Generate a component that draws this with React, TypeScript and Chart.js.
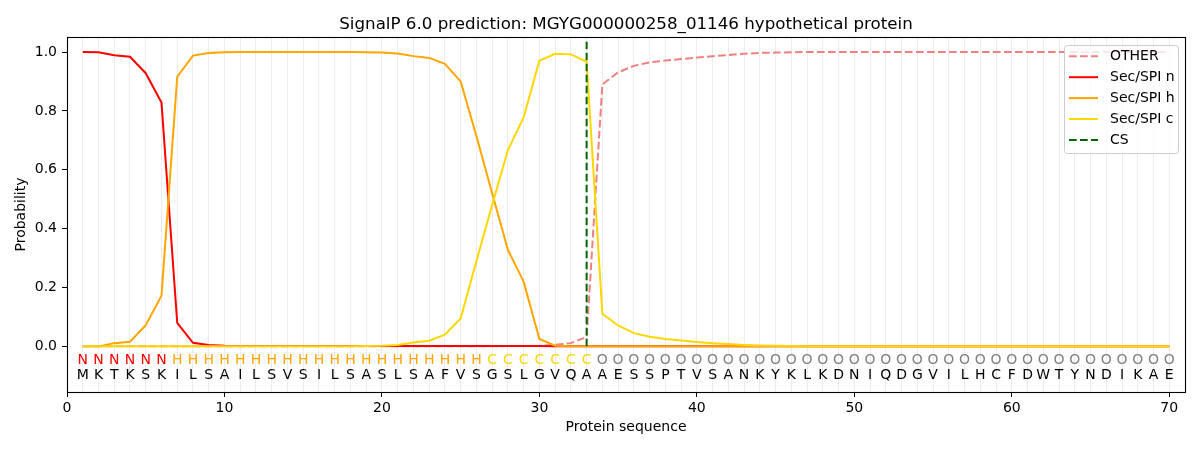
import React, { useEffect, useRef } from 'react';
import Chart from 'chart.js/auto';

const TITLE = 'SignalP 6.0 prediction: MGYG000000258_01146 hypothetical protein';

// amino acid sequence and per-residue region label (N / H / C / O)
const sequence = 'MKTKSKILSAILSVSILSASLSAFVSGSLGVQAAESSPTVSANKYKLKDNIQDGVILHCFDWTYNDIKAE';
const regions = 'NNNNNNHHHHHHHHHHHHHHHHHHHHCCCCCCCOOOOOOOOOOOOOOOOOOOOOOOOOOOOOOOOOOOOO';

const otherProb = [
  0, 0, 0, 0, 0, 0, 0, 0, 0, 0,
  0, 0, 0, 0, 0, 0, 0, 0, 0, 0,
  0, 0, 0, 0, 0, 0, 0, 0.001, 0.001, 0.002,
  0.005, 0.011, 0.032, 0.89, 0.931, 0.953, 0.965, 0.971, 0.976, 0.981,
  0.986, 0.99, 0.994, 0.997, 0.998, 0.999, 1, 1, 1, 1,
  1, 1, 1, 1, 1, 1, 1, 1, 1, 1,
  1, 1, 1, 1, 1, 1, 1, 1, 1, 1,
];
const nProb = [
  1, 0.999, 0.989, 0.984, 0.928, 0.828, 0.08, 0.012, 0.005, 0.002,
  0.001, 0.001, 0.001, 0.001, 0.001, 0.001, 0.001, 0.001, 0.001, 0.001,
  0.001, 0.001, 0.001, 0.001, 0.001, 0.001, 0.001, 0.001, 0.001, 0.001,
  0, 0, 0, 0, 0, 0, 0, 0, 0, 0,
  0, 0, 0, 0, 0, 0, 0, 0, 0, 0,
  0, 0, 0, 0, 0, 0, 0, 0, 0, 0,
  0, 0, 0, 0, 0, 0, 0, 0, 0, 0,
];
const hProb = [
  0, 0, 0.011, 0.016, 0.072, 0.172, 0.916, 0.988, 0.997, 0.999,
  1, 1, 1, 1, 1, 1, 1, 1, 0.999, 0.998,
  0.995, 0.986, 0.98, 0.96, 0.9, 0.715, 0.52, 0.328, 0.22, 0.025,
  0.002, 0, 0, 0, 0, 0, 0, 0, 0, 0,
  0, 0, 0, 0, 0, 0, 0, 0, 0, 0,
  0, 0, 0, 0, 0, 0, 0, 0, 0, 0,
  0, 0, 0, 0, 0, 0, 0, 0, 0, 0,
];
const cProb = [
  0, 0, 0, 0, 0, 0, 0, 0, 0, 0,
  0, 0, 0, 0, 0, 0, 0, 0, 0.001, 0.002,
  0.005, 0.013, 0.019, 0.04, 0.095, 0.29, 0.48, 0.667, 0.778, 0.97,
  0.994, 0.992, 0.967, 0.111, 0.071, 0.045, 0.033, 0.025, 0.02, 0.015,
  0.011, 0.008, 0.005, 0.003, 0.002, 0.001, 0, 0, 0, 0,
  0, 0, 0, 0, 0, 0, 0, 0, 0, 0,
  0, 0, 0, 0, 0, 0, 0, 0, 0, 0,
];
const csPosition = 33;
const csRange = [0, 1.035];
const yTicks = [0, 0.2, 0.4, 0.6, 0.8, 1.0];

const FONT = "'DejaVu Sans', sans-serif";
const regionColors: Record<string, string> = { N: '#ff0000', H: '#ffa500', C: '#ffd700', O: '#808080' };
const legendItems = [
  { label: 'OTHER', color: '#f08080', dash: [7.7, 3.3] },
  { label: 'Sec/SPI n', color: '#ff0000', dash: [] },
  { label: 'Sec/SPI h', color: '#ffa500', dash: [] },
  { label: 'Sec/SPI c', color: '#ffd700', dash: [] },
  { label: 'CS', color: '#006400', dash: [7.7, 3.3] },
];

const toPoints = (vals: number[]) => vals.map((v, i) => ({ x: i + 1, y: v }));

// title, frame, residue letters and legend
const decorations = {
  id: 'decorations',
  afterDraw(chart: any) {
    const { ctx, chartArea: a, scales } = chart;
    const x = scales.x;
    const y = scales.y;
    ctx.save();

    ctx.strokeStyle = '#000';
    ctx.lineWidth = 1.1;
    ctx.strokeRect(Math.round(a.left) + 0.5, Math.round(a.top) + 0.5, Math.round(a.width), Math.round(a.height));

    ctx.fillStyle = '#000';
    ctx.font = `16.7px ${FONT}`;
    ctx.textAlign = 'center';
    ctx.textBaseline = 'alphabetic';
    ctx.fillText(TITLE, (a.left + a.right) / 2, 29);

    ctx.textBaseline = 'middle';
    ctx.font = `14px ${FONT}`;
    const yLab = y.getPixelForValue(-0.049);
    const ySeq = y.getPixelForValue(-0.1);
    for (let i = 0; i < sequence.length; i++) {
      const px = x.getPixelForValue(i + 1);
      ctx.fillStyle = regionColors[regions[i]];
      ctx.fillText(regions[i], px, yLab);
      ctx.fillStyle = '#000';
      ctx.fillText(sequence[i], px, ySeq);
    }

    // legend
    const bx = 1064, by = 45, bw = 114, bh = 108;
    ctx.fillStyle = 'rgba(255,255,255,0.8)';
    ctx.strokeStyle = '#cccccc';
    ctx.lineWidth = 1;
    ctx.beginPath();
    ctx.roundRect(bx + 0.5, by + 0.5, bw, bh, 3);
    ctx.fill();
    ctx.stroke();
    ctx.textAlign = 'left';
    legendItems.forEach((item, i) => {
      const ly = 56.3 + i * 20.9;
      ctx.strokeStyle = item.color;
      ctx.lineWidth = 2;
      ctx.setLineDash(item.dash);
      ctx.beginPath();
      ctx.moveTo(1069, ly);
      ctx.lineTo(1098, ly);
      ctx.stroke();
      ctx.setLineDash([]);
      ctx.fillStyle = '#000';
      ctx.fillText(item.label, 1110, ly);
    });
    ctx.restore();
  },
};

export default function App() {
  const canvasRef = useRef<HTMLCanvasElement>(null);

  useEffect(() => {
    document.body.style.margin = '0';
    if (!canvasRef.current) return;
    const ctx = canvasRef.current.getContext('2d');
    if (!ctx) return;

    const chart = new Chart(ctx, {
      type: 'line',
      data: {
        datasets: [
          { label: 'OTHER', data: toPoints(otherProb), borderColor: '#f08080', borderDash: [7.7, 3.3], order: 5 },
          { label: 'Sec/SPI n', data: toPoints(nProb), borderColor: '#ff0000', order: 4 },
          { label: 'Sec/SPI h', data: toPoints(hProb), borderColor: '#ffa500', order: 3 },
          { label: 'Sec/SPI c', data: toPoints(cProb), borderColor: '#ffd700', order: 2 },
          {
            label: 'CS',
            data: csRange.map(v => ({ x: csPosition, y: v })),
            borderColor: '#006400',
            borderDash: [7.7, 3.3],
            order: 1,
          },
        ],
      },
      options: {
        animation: false,
        responsive: false,
        layout: { padding: { top: 37, right: 15, left: 0, bottom: 0 } },
        elements: {
          point: { radius: 0 },
          line: { borderWidth: 2, tension: 0, fill: false },
        },
        plugins: {
          legend: { display: false },
          tooltip: { enabled: false },
        },
        scales: {
          x: {
            type: 'linear',
            min: 0,
            max: 71,
            afterFit: (s: any) => { s.height = 58; },
            ticks: {
              stepSize: 1,
              autoSkip: false,
              maxRotation: 0,
              color: '#000',
              font: { family: FONT, size: 14 },
              padding: 3,
              callback: (v: any) => (v % 10 === 0 ? String(v) : ''),
            },
            grid: {
              color: (c: any) => (c.tick && c.tick.value > 0 && c.tick.value < 71 ? '#ececec' : 'rgba(0,0,0,0)'),
              tickColor: (c: any) => (c.tick && c.tick.value % 10 === 0 ? '#000' : 'rgba(0,0,0,0)'),
              tickLength: 5,
              lineWidth: 1,
            },
            border: { display: false },
            title: {
              display: true,
              text: 'Protein sequence',
              color: '#000',
              font: { family: FONT, size: 14 },
              padding: { top: 0, bottom: 14 },
            },
          },
          y: {
            type: 'linear',
            min: -0.155,
            max: 1.051,
            afterFit: (s: any) => { s.width = 67; },
            afterBuildTicks: (s: any) => { s.ticks = yTicks.map(v => ({ value: v })); },
            ticks: {
              color: '#000',
              font: { family: FONT, size: 14 },
              padding: 5,
              callback: (v: any) => Number(v).toFixed(1),
            },
            grid: {
              drawOnChartArea: false,
              tickColor: '#000',
              tickLength: 5,
            },
            border: { display: false },
            title: {
              display: true,
              text: 'Probability',
              color: '#000',
              font: { family: FONT, size: 14 },
              padding: { top: 13, bottom: 0 },
            },
          },
        },
      },
      plugins: [decorations],
    });

    return () => {
      chart.destroy();
    };
  }, []);

  return (
    <div style={{ position: 'absolute', left: 0, top: 0, width: 1200, height: 450 }}>
      <canvas ref={canvasRef} width={1200} height={450} />
    </div>
  );
}
